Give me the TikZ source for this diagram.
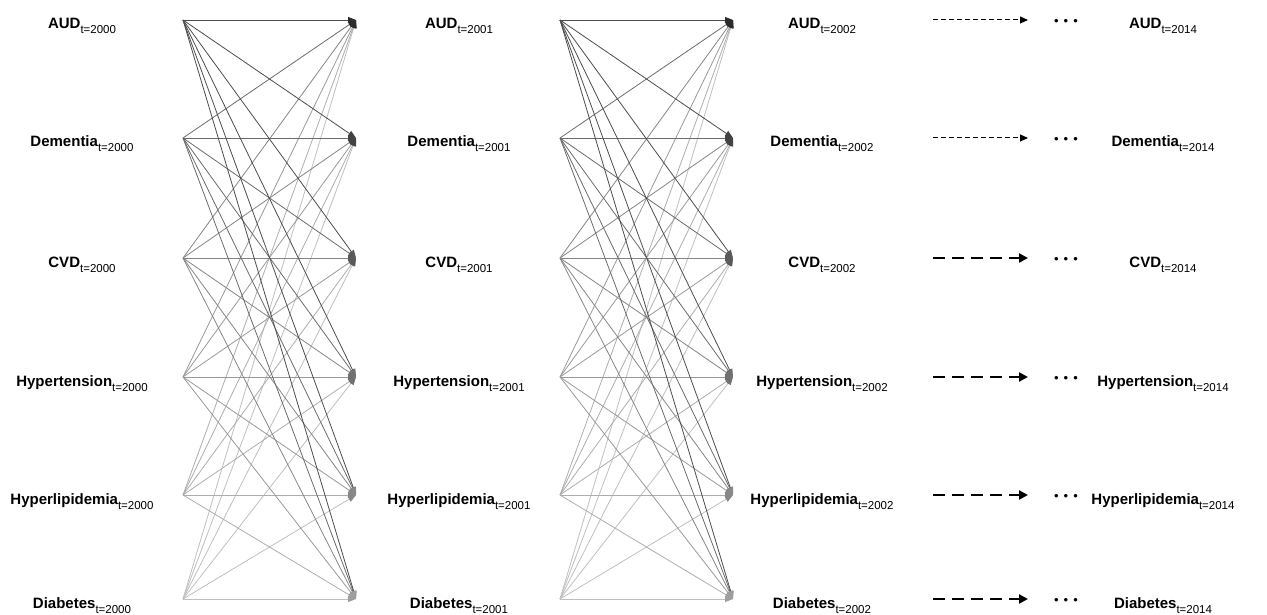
\documentclass[tikz,border=0pt]{standalone}
\usepackage{fontspec}
\setmainfont{Liberation Sans}
\usetikzlibrary{arrows.meta}

\newcommand{\lbl}[2]{{\fontsize{15}{18}\selectfont\bfseries #1}\raisebox{-5pt}{\fontsize{11.5}{14}\selectfont t=#2}}
\newcommand{\dotrow}{{\fontsize{13}{16}\selectfont •\hspace{5pt}•\hspace{5pt}•}}

\tikzset{
  lab/.style={anchor=base, inner sep=0pt},
  link/.style={line width=0.8pt},
  thindash/.style={line width=1pt, dash pattern=on 5pt off 3pt, -{Triangle[length=8pt,width=7pt]}},
  thickdash/.style={line width=2.8pt, dash pattern=on 12pt off 7pt, -{Triangle[length=9pt,width=9pt]}},
}

\begin{document}
\begin{tikzpicture}[x=1pt,y=-1pt]
\useasboundingbox (0,0) rectangle (1267,615);

\foreach \n/\name/\y in {1/AUD/20, 2/Dementia/138, 3/CVD/258, 4/Hypertension/377, 5/Hyperlipidemia/495, 6/Diabetes/599} {
  \node[lab] (a\n) at (82,\y+9) {\lbl{\name}{2000}};
  \node[lab] (b\n) at (459,\y+9) {\lbl{\name}{2001}};
  \node[lab] (c\n) at (822,\y+9) {\lbl{\name}{2002}};
  \node[lab] (z\n) at (1163,\y+9) {\lbl{\name}{2014}};
  \coordinate (s1\n) at (183,\y);
  \coordinate (t1\n) at (356,\y);
  \coordinate (s2\n) at (560,\y);
  \coordinate (t2\n) at (733,\y);
  \coordinate (d\n) at (933,\y);
  \coordinate (e\n) at (1028,\y);
  \node (dots\n) at (1066,\y+2) {\dotrow};
}

\foreach \i/\g in {6/25,5/32,4/40,3/48,2/58,1/70} {
  \foreach \j in {1,...,6} {
    \pgfmathtruncatemacro\tip{92-9*\j}
    \draw[link, black!\g, -{Triangle[length=8pt,width=6pt,color=black!\tip]}] (s1\i) -- (t1\j);
    \draw[link, black!\g, -{Triangle[length=8pt,width=6pt,color=black!\tip]}] (s2\i) -- (t2\j);
  }
}

\draw[thindash] (d1) -- (e1);
\draw[thindash] (d2) -- (e2);
\foreach \n in {3,...,6}
  \draw[thickdash] (d\n) -- (e\n);
\end{tikzpicture}
\end{document}
